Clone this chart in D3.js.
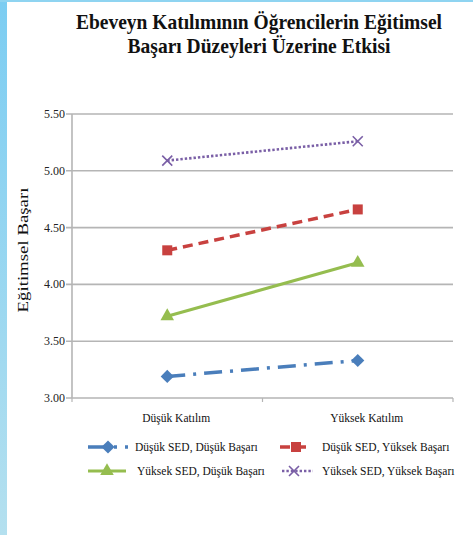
<!DOCTYPE html>
<html><head><meta charset="utf-8">
<script src="https://cdn.jsdelivr.net/npm/d3@7"></script>
<style>html,body{margin:0;padding:0;background:#fff;}svg{display:block;}</style>
</head><body>
<script>
const categories = ["Düşük Katılım", "Yüksek Katılım"];
const seriesNames = ["Düşük SED, Düşük Başarı", "Düşük SED, Yüksek Başarı", "Yüksek SED, Düşük Başarı", "Yüksek SED, Yüksek Başarı"];
const lowSesLowAch = [3.19, 3.33];
const lowSesHighAch = [4.30, 4.66];
const highSesLowAch = [3.72, 4.19];
const highSesHighAch = [5.09, 5.26];
const yTicks = [3.0, 3.5, 4.0, 4.5, 5.0, 5.5];
const titleLines = ["Ebeveyn Katılımının Öğrencilerin Eğitimsel", "Başarı Düzeyleri Üzerine Etkisi"];
const yTitle = "Eğitimsel Başarı";

const W = 473, H = 535;
const svg = d3.select("body").append("svg").attr("width", W).attr("height", H);
const defs = svg.append("defs");
const grad = defs.append("linearGradient").attr("id", "lg").attr("x1", 0).attr("y1", 0).attr("x2", 0).attr("y2", 1);
grad.append("stop").attr("offset", "0%").attr("stop-color", "#7ccdf2");
grad.append("stop").attr("offset", "100%").attr("stop-color", "#b4e0ef");
svg.append("rect").attr("width", W).attr("height", H).attr("fill", "#fff");
svg.append("rect").attr("x", 0).attr("y", 0).attr("width", 7).attr("height", H).attr("fill", "url(#lg)");
svg.append("rect").attr("x", 0).attr("y", 0).attr("width", W).attr("height", 2).attr("fill", "#8fd4f1");

const serif = "'Liberation Serif','DejaVu Serif',serif";

// Title
const tl = [ {y: 29, len: 366}, {y: 53, len: 263} ];
titleLines.forEach((t, i) => {
  svg.append("text").attr("x", 259).attr("y", tl[i].y).attr("text-anchor", "middle")
    .attr("font-family", serif).attr("font-weight", "bold").attr("font-size", 21)
    .attr("textLength", tl[i].len).attr("lengthAdjust", "spacingAndGlyphs")
    .attr("fill", "#111").text(t);
});

const x = d3.scalePoint().domain(categories).range([72, 453]).padding(0.5);
const y = d3.scaleLinear().domain([3, 5.5]).range([398, 114]);

const grid = "#b5b5b5";
svg.append("g").selectAll("line").data(yTicks).join("line")
  .attr("x1", 66).attr("x2", 453).attr("y1", d => y(d)).attr("y2", d => y(d))
  .attr("stroke", grid).attr("stroke-width", 1.6);
svg.append("line").attr("x1", 72).attr("x2", 72).attr("y1", y(5.5)).attr("y2", y(3))
  .attr("stroke", grid).attr("stroke-width", 1.6);
const xb = [72, 262.5, 453];
svg.append("g").selectAll("line").data(xb).join("line")
  .attr("x1", d => d).attr("x2", d => d).attr("y1", y(3)).attr("y2", y(3) + 4)
  .attr("stroke", grid).attr("stroke-width", 1.2);
svg.append("g").selectAll("text").data(yTicks).join("text")
  .attr("x", 65).attr("y", d => y(d) + 4).attr("text-anchor", "end")
  .attr("font-family", serif).attr("font-size", 12).attr("fill", "#222")
  .text(d => d3.format(".2f")(d));
svg.append("text").attr("transform", "translate(28,250) rotate(-90)").attr("text-anchor", "middle")
  .attr("font-family", serif).attr("font-size", 15).attr("fill", "#111")
  .attr("textLength", 125).attr("lengthAdjust", "spacingAndGlyphs").text(yTitle);
svg.append("g").selectAll("text").data(categories).join("text")
  .attr("x", d => x(d) + 9).attr("y", 422).attr("text-anchor", "middle")
  .attr("font-family", serif).attr("font-size", 11.5).attr("fill", "#111").text(d => d);

const series = [
  {name: seriesNames[0], values: lowSesLowAch, color: "#4a7ebb", dash: "18,8,3,8", sw: 3.5, marker: "diamond"},
  {name: seriesNames[1], values: lowSesHighAch, color: "#c8413f", dash: "10,6", sw: 3.5, marker: "square"},
  {name: seriesNames[2], values: highSesLowAch, color: "#95bd4f", dash: null, sw: 3, marker: "triangle"},
  {name: seriesNames[3], values: highSesHighAch, color: "#7a5fa6", dash: "2.4,2", sw: 2.6, marker: "x"}
];

function drawMarker(g, type, cx, cy, color) {
  if (type === "diamond") {
    g.append("path").attr("d", d3.symbol().type(d3.symbolDiamond2).size(110)()).attr("transform", `translate(${cx},${cy})`).attr("fill", color);
  } else if (type === "square") {
    g.append("rect").attr("x", cx - 5).attr("y", cy - 5).attr("width", 10).attr("height", 10).attr("fill", color);
  } else if (type === "triangle") {
    g.append("path").attr("d", d3.symbol().type(d3.symbolTriangle).size(80)()).attr("transform", `translate(${cx},${cy})`).attr("fill", color);
  } else {
    g.append("path").attr("d", `M${cx-5},${cy-5}L${cx+5},${cy+5}M${cx-5},${cy+5}L${cx+5},${cy-5}`).attr("stroke", color).attr("stroke-width", 1.6).attr("fill", "none");
  }
}

const line = d3.line().x((d, i) => x(categories[i])).y(d => y(d));
series.forEach(s => {
  const g = svg.append("g");
  g.append("path").attr("d", line(s.values)).attr("fill", "none").attr("stroke", s.color)
    .attr("stroke-width", s.sw).attr("stroke-dasharray", s.dash);
  s.values.forEach((v, i) => drawMarker(g, s.marker, x(categories[i]), y(v), s.color));
});

const leg = [
  {s: series[0], x0: 88, x1: 128, mx: 108, tx: 135, y: 447},
  {s: series[1], x0: 280, x1: 312, mx: 296, tx: 322, y: 447},
  {s: series[2], x0: 88, x1: 126, mx: 107, tx: 137, y: 471},
  {s: series[3], x0: 282, x1: 313, mx: 294, tx: 322, y: 471}
];
leg.forEach(l => {
  const g = svg.append("g");
  g.append("line").attr("x1", l.x0).attr("x2", l.x1).attr("y1", l.y).attr("y2", l.y)
    .attr("stroke", l.s.color).attr("stroke-width", l.s.sw).attr("stroke-dasharray", l.s.dash);
  drawMarker(g, l.s.marker, l.mx, l.y, l.s.color);
  g.append("text").attr("x", l.tx).attr("y", l.y + 4).attr("font-family", serif).attr("font-size", 11.5)
    .attr("fill", "#111").text(l.s.name);
});
</script>
</body></html>
